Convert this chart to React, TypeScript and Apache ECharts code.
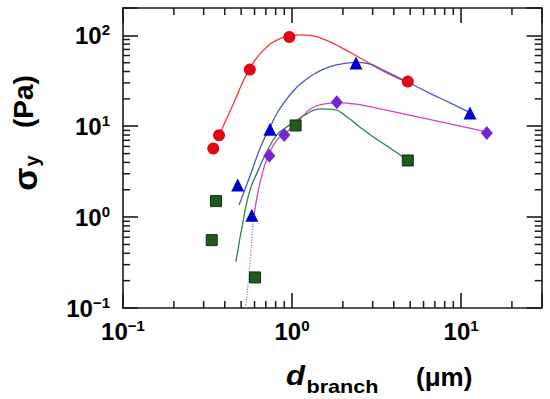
import { useEffect, useRef } from 'react';
import * as echarts from 'echarts';

const X_MIN = 0.1;
const X_MAX = 30;
const Y_MIN = 0.1;
const Y_MAX = 200;

const xMinorTicks = [0.2, 0.3, 0.4, 0.5, 0.6, 0.7, 0.8, 0.9, 2, 3, 4, 5, 6, 7, 8, 9, 20];
const yMinorTicks = [0.2, 0.3, 0.4, 0.5, 0.6, 0.7, 0.8, 0.9, 2, 3, 4, 5, 6, 7, 8, 9, 20, 30, 40, 50, 60, 70, 80, 90];

// measured points (d_branch in µm, sigma_y in Pa)
const redPoints = [[0.342, 5.69], [0.370, 7.96], [0.563, 42], [0.964, 95.8], [4.84, 31]];
const bluePoints = [[0.477, 2.25], [0.578, 1.05], [0.741, 9.27], [2.39, 49.6], [11.3, 14.0]];
const purplePoints = [[0.734, 4.72], [0.90, 8.02], [1.84, 18.4], [14.2, 8.43]];
const greenPoints = [[0.335, 0.558], [0.355, 1.5], [0.604, 0.217], [1.05, 10.2], [4.84, 4.2]];

// fitted curves
const redFit = [[0.370, 7.96], [0.450, 17.7], [0.558, 42], [0.708, 74.3], [0.849, 92.0], [0.973, 97.5], [1.115, 101.3], [1.278, 100], [1.465, 93.9], [1.678, 84.8], [1.923, 74.7], [2.204, 65.1], [2.704, 52.5], [3.317, 42.3], [4.07, 35.0], [4.86, 30.4]];
const blueFit = [[0.486, 1.355], [0.527, 2.03], [0.572, 3.04], [0.621, 4.68], [0.674, 6.84], [0.741, 9.75], [0.815, 13.9], [0.909, 18.8], [1.014, 24.3], [1.162, 30.8], [1.368, 38.0], [1.678, 45.2], [2.059, 49.2], [2.391, 50.5], [2.817, 48.9], [3.409, 42.1], [4.124, 35.4], [4.991, 29.7], [6.555, 23.0], [8.61, 18.1], [11.3, 14.1]];
const greenFit = [[0.466, 0.323], [0.515, 0.927], [0.564, 1.98], [0.632, 3.29], [0.708, 5.22], [0.815, 8.07], [0.909, 9.51], [1.028, 11.07], [1.222, 13.7], [1.465, 15.5], [1.756, 15.3], [2.107, 12.7], [2.527, 9.75], [3.028, 7.63], [3.975, 5.45], [4.836, 4.23]];
const purpleFitDotted = [[0.532, 0.1], [0.564, 0.31], [0.590, 0.927]];
const purpleFit = [[0.590, 0.927], [0.632, 1.98], [0.676, 3.29], [0.724, 4.8], [0.812, 7.02], [0.897, 8.17], [1.071, 10.9], [1.278, 15.4], [1.532, 17.5], [1.854, 18.2], [2.204, 17.8], [2.642, 17.0], [5.72, 12.5], [14.2, 8.66]];

const AX = '#1a1a1a';
const FONT = 'Liberation Sans';

function powLabel(v: number): string {
  const e = Math.log10(v);
  const r = Math.round(e);
  if (Math.abs(e - r) > 1e-6) return '';
  const sup = r < 0 ? '\u2212' + Math.abs(r) : String(r);
  return `{b|10}{s|${sup}}`;
}

const labelRich = {
  b: { fontSize: 24, fontWeight: 'bold', fontFamily: FONT, color: '#000', lineHeight: 26 },
  s: { fontSize: 15, fontWeight: 'bold', fontFamily: FONT, color: '#000', lineHeight: 15, verticalAlign: 'top' },
};

function minorX(params: any, api: any) {
  const v = api.value(0);
  const b = api.coord([v, Y_MIN]);
  const t = api.coord([v, Y_MAX]);
  return {
    type: 'group',
    children: [
      { type: 'line', shape: { x1: b[0], y1: b[1], x2: b[0], y2: b[1] - 7 }, style: { stroke: AX, lineWidth: 1.5 } },
      { type: 'line', shape: { x1: t[0], y1: t[1], x2: t[0], y2: t[1] + 7 }, style: { stroke: AX, lineWidth: 1.5 } },
    ],
  };
}

function minorY(params: any, api: any) {
  const v = api.value(1);
  const l = api.coord([X_MIN, v]);
  const r = api.coord([X_MAX, v]);
  return {
    type: 'group',
    children: [
      { type: 'line', shape: { x1: l[0], y1: l[1], x2: l[0] + 7, y2: l[1] }, style: { stroke: AX, lineWidth: 1.5 } },
      { type: 'line', shape: { x1: r[0], y1: r[1], x2: r[0] - 7, y2: r[1] }, style: { stroke: AX, lineWidth: 1.5 } },
    ],
  };
}

const baseAxis = {
  type: 'log',
  logBase: 10,
  axisLine: { show: true, onZero: false, lineStyle: { color: AX, width: 1.6 } },
  axisTick: { show: true, inside: true, length: 15, lineStyle: { color: AX, width: 1.6 } },
  splitLine: { show: false },
  minorTick: { show: false },
};

export default function App() {
  const ref = useRef<HTMLDivElement>(null);
  useEffect(() => {
    document.body.style.margin = '0';
    const chart = echarts.init(ref.current!, undefined, { renderer: 'svg' });
    const lineSeries = (data: number[][], color: string, type = 'solid') => ({
      type: 'line',
      data,
      smooth: 0.5,
      symbol: 'none',
      z: 2,
      lineStyle: { color, width: 1.3, type },
    });
    const scatter = (data: number[][], symbol: string, size: number | number[], color: string, border?: string) => ({
      type: 'scatter',
      data,
      symbol,
      symbolSize: size,
      z: 4,
      itemStyle: { color, borderColor: border || color, borderWidth: border ? 1 : 0, opacity: 1 },
    });
    chart.setOption({
      animation: false,
      backgroundColor: '#fff',
      grid: { left: 123, right: 8.3, top: 8, bottom: 91 },
      xAxis: [
        {
          ...baseAxis,
          min: X_MIN,
          max: X_MAX,
          position: 'bottom',
          axisLabel: { show: true, margin: 10, formatter: powLabel, rich: labelRich },
        },
        {
          ...baseAxis,
          min: X_MIN,
          max: X_MAX,
          position: 'top',
          axisLabel: { show: false },
        },
      ],
      yAxis: [
        {
          ...baseAxis,
          min: Y_MIN,
          max: Y_MAX,
          position: 'left',
          axisLabel: { show: true, margin: 13, formatter: powLabel, rich: labelRich },
        },
        {
          ...baseAxis,
          min: Y_MIN,
          max: Y_MAX,
          position: 'right',
          axisLabel: { show: false },
        },
      ],
      series: [
        { type: 'custom', renderItem: minorX, data: xMinorTicks.map((v) => [v, Y_MIN]), clip: false, z: 1, silent: true },
        { type: 'custom', renderItem: minorY, data: yMinorTicks.map((v) => [X_MIN, v]), clip: false, z: 1, silent: true },
        lineSeries(redFit, '#ff3333'),
        lineSeries(blueFit, '#4a55c8'),
        lineSeries(greenFit, '#2f8050'),
        lineSeries(purpleFitDotted, '#8a8ae6', 'dotted'),
        lineSeries(purpleFit, '#c845c8'),
        scatter(redPoints, 'circle', 12, '#e30613'),
        scatter(bluePoints, 'triangle', 13, '#0000d0'),
        scatter(purplePoints, 'diamond', [12, 14], '#7424d4'),
        scatter(greenPoints, 'rect', 11, '#1f5a1f', '#0d330d'),
      ],
      graphic: [
        { type: 'text', x: 286, y: 376, scaleX: 1.15, style: { text: 'd', fontSize: 27, fontWeight: 'bold', fontStyle: 'italic', fontFamily: FONT, fill: '#000', align: 'left', verticalAlign: 'middle' } },
        { type: 'text', x: 306.5, y: 387, scaleX: 1.2, style: { text: 'branch', fontSize: 18, fontWeight: 'bold', fontFamily: FONT, fill: '#000', align: 'left', verticalAlign: 'middle' } },
        { type: 'text', x: 416, y: 377, style: { text: '(\u03bcm)', fontSize: 26, fontWeight: 'bold', fontFamily: FONT, fill: '#000', align: 'left', verticalAlign: 'middle' } },
        { type: 'text', x: 23.5, y: 101.5, rotation: Math.PI / 2, style: { text: '(Pa)', fontSize: 28, fontWeight: 'bold', fontFamily: FONT, fill: '#000', align: 'center', verticalAlign: 'middle' } },
        { type: 'text', x: 25, y: 179, rotation: Math.PI / 2, style: { text: '\u03c3', fontSize: 34, fontWeight: 'bold', fontFamily: FONT, fill: '#000', align: 'center', verticalAlign: 'middle' } },
        { type: 'text', x: 32, y: 161, rotation: Math.PI / 2, style: { text: 'y', fontSize: 20, fontWeight: 'bold', fontFamily: FONT, fill: '#000', align: 'center', verticalAlign: 'middle' } },
      ],
    });
    return () => chart.dispose();
  }, []);
  return <div ref={ref} style={{ width: 550, height: 399 }} />;
}
